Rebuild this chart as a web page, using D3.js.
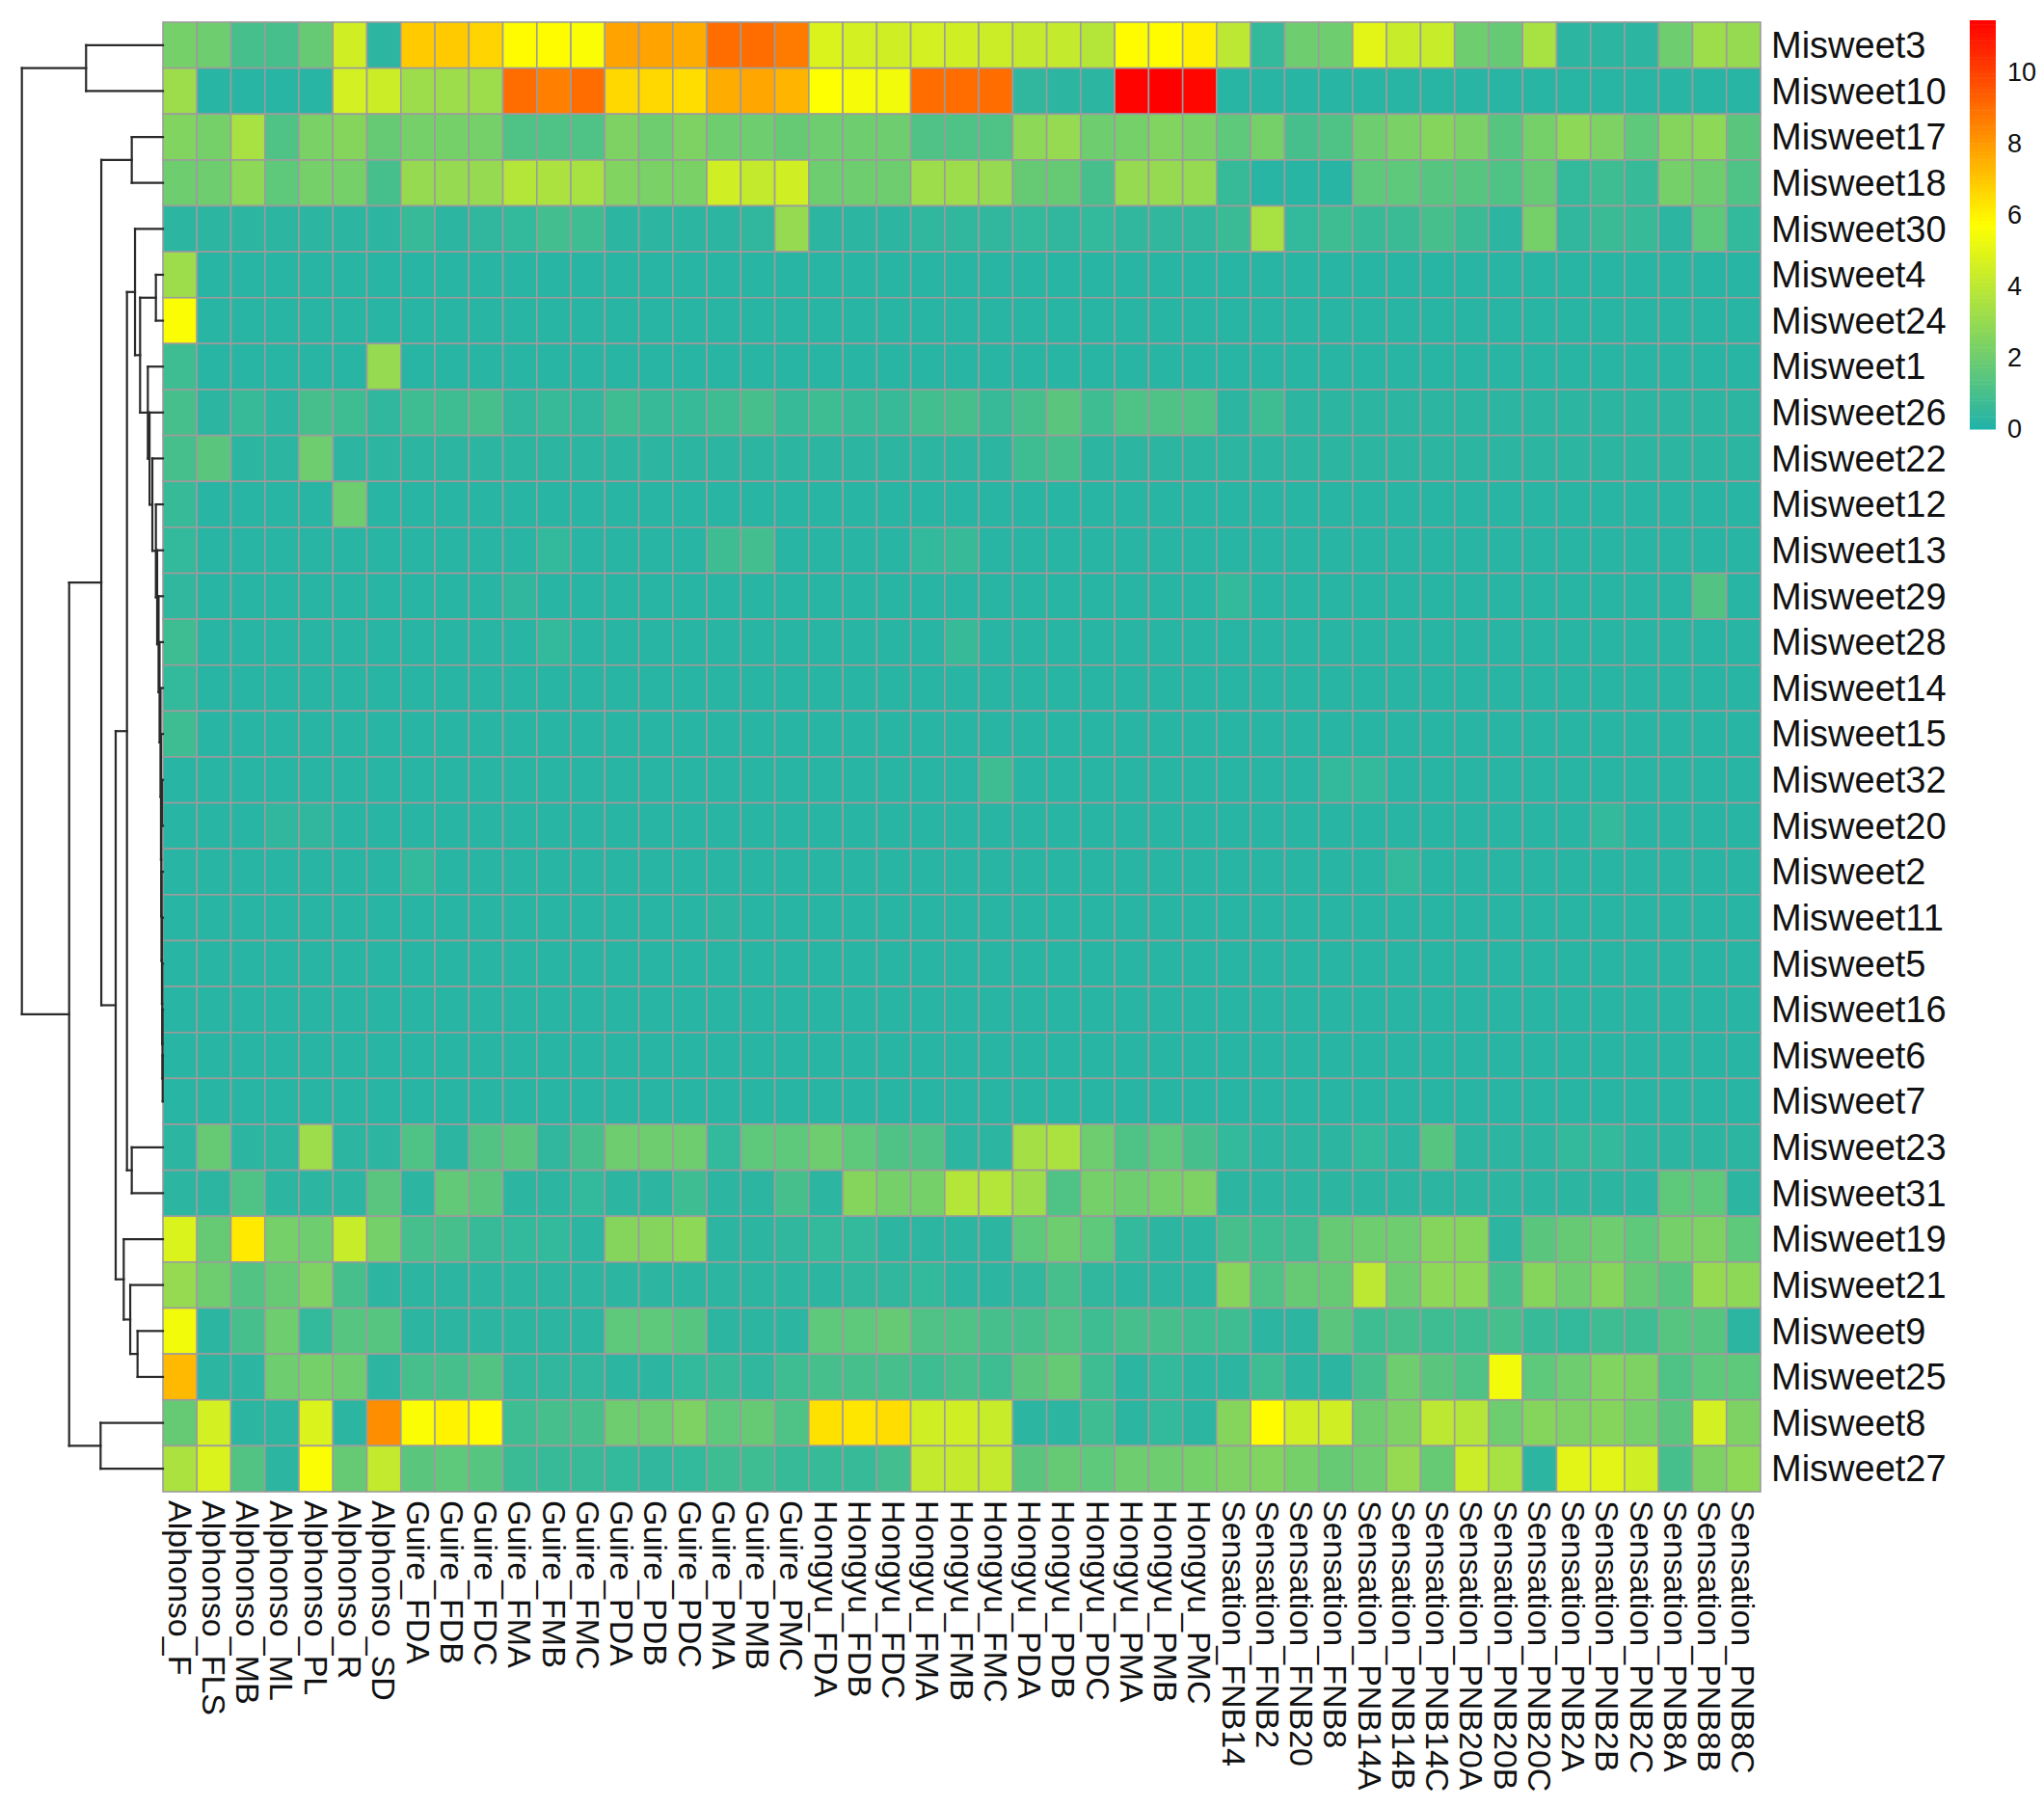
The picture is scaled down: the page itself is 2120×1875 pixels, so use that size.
<!DOCTYPE html>
<html>
<head>
  <title>Misweet heatmap</title>
  <script type="text/javascript" src="https://d3js.org/d3.v7.min.js"></script>
  <style>
    body { margin: 0; background: #fff; }
    text { font-family: "Liberation Sans", Arial, sans-serif; fill: #111; }
  </style>
</head>
<body>
<div class="heatmap"></div>

<script type="text/javascript">
// row order (as clustered)
const genes = ["Misweet3","Misweet10","Misweet17","Misweet18","Misweet30","Misweet4","Misweet24","Misweet1",
  "Misweet26","Misweet22","Misweet12","Misweet13","Misweet29","Misweet28","Misweet14","Misweet15",
  "Misweet32","Misweet20","Misweet2","Misweet11","Misweet5","Misweet16","Misweet6","Misweet7",
  "Misweet23","Misweet31","Misweet19","Misweet21","Misweet9","Misweet25","Misweet8","Misweet27"];

const samples = ["Alphonso_F","Alphonso_FLS","Alphonso_MB","Alphonso_ML","Alphonso_PL","Alphonso_R","Alphonso_SD",
  "Guire_FDA","Guire_FDB","Guire_FDC","Guire_FMA","Guire_FMB","Guire_FMC","Guire_PDA","Guire_PDB","Guire_PDC","Guire_PMA","Guire_PMB","Guire_PMC",
  "Hongyu_FDA","Hongyu_FDB","Hongyu_FDC","Hongyu_FMA","Hongyu_FMB","Hongyu_FMC","Hongyu_PDA","Hongyu_PDB","Hongyu_PDC","Hongyu_PMA","Hongyu_PMB","Hongyu_PMC",
  "Sensation_FNB14","Sensation_FNB2","Sensation_FNB20","Sensation_FNB8","Sensation_PNB14A","Sensation_PNB14B","Sensation_PNB14C",
  "Sensation_PNB20A","Sensation_PNB20B","Sensation_PNB20C","Sensation_PNB2A","Sensation_PNB2B","Sensation_PNB2C",
  "Sensation_PNB8A","Sensation_PNB8B","Sensation_PNB8C"];

// expression values, one row per gene (same order as genes), columns as samples
const expr = [
  [2.2,2.0,1.0,1.0,1.8,4.5,0.3, 6.9,6.9,6.7,5.8,5.8,5.6,7.8,7.8,7.6,9.0,9.0,8.7, 4.8,4.6,4.5,4.6,4.5,4.4,4.2,4.2,3.8,5.8,5.8,6.1, 4.0,0.5,2.0,2.0,5.0,4.3,4.3,2.0,1.8,3.5,0.3,0.3,0.3,2.0,3.2,3.0],
  [3.2,0.2,0.2,0.2,0.2,4.6,4.4, 3.2,3.2,3.2,9.0,8.6,9.0,6.6,6.6,6.5,7.6,7.7,7.4, 5.7,5.5,5.4,9.0,9.0,9.0,0.4,0.3,0.3,11.4,11.5,11.3, 0.2,0.2,0.2,0.2,0.2,0.2,0.2,0.2,0.2,0.2,0.2,0.2,0.2,0.2,0.2,0.2],
  [2.5,2.2,3.5,1.2,2.3,2.6,1.8, 2.2,2.2,2.2,1.2,1.2,1.2,2.4,2.0,2.4,2.0,2.0,1.8, 2.0,2.0,2.0,1.2,1.2,1.2,2.8,3.0,2.0,2.2,2.5,2.3, 1.6,2.2,1.0,1.2,2.0,2.3,2.6,2.3,1.4,2.2,2.8,2.4,1.6,2.6,2.8,1.5],
  [2.0,2.0,2.8,1.6,2.2,2.2,1.0, 3.0,3.0,3.0,3.8,3.6,3.5,2.5,2.3,2.3,4.5,4.2,4.5, 2.0,2.0,2.0,3.2,3.2,3.0,1.8,1.8,1.0,3.0,3.0,3.0, 0.6,0.2,0.2,0.2,1.6,1.6,1.4,1.4,1.2,1.8,0.5,0.8,0.6,2.2,2.0,1.2],
  [0.3,0.3,0.3,0.3,0.3,0.3,0.3, 0.6,0.3,0.4,0.5,0.9,0.8,0.3,0.3,0.3,0.3,0.4,3.0, 0.3,0.3,0.3,0.4,0.4,0.4,0.5,0.4,0.5,0.4,0.4,0.4, 0.7,3.5,0.5,0.8,0.6,0.7,1.0,0.7,0.3,2.2,0.4,0.7,0.6,0.3,1.6,0.5],
  [3.2,0.2,0.2,0.2,0.2,0.2,0.2, 0.2,0.2,0.2,0.2,0.2,0.2,0.2,0.2,0.2,0.2,0.2,0.2, 0.2,0.2,0.2,0.2,0.2,0.2,0.2,0.2,0.2,0.2,0.2,0.2, 0.2,0.2,0.2,0.2,0.2,0.2,0.2,0.2,0.2,0.2,0.2,0.2,0.2,0.2,0.2,0.2],
  [5.6,0.2,0.2,0.2,0.2,0.2,0.2, 0.2,0.2,0.2,0.2,0.2,0.2,0.2,0.2,0.2,0.2,0.2,0.2, 0.2,0.2,0.2,0.2,0.2,0.2,0.2,0.2,0.2,0.2,0.2,0.2, 0.2,0.2,0.2,0.2,0.2,0.2,0.2,0.2,0.2,0.2,0.2,0.2,0.2,0.2,0.2,0.2],
  [0.8,0.2,0.2,0.2,0.2,0.2,3.0, 0.2,0.2,0.2,0.2,0.2,0.2,0.2,0.2,0.2,0.2,0.2,0.2, 0.2,0.2,0.2,0.2,0.2,0.2,0.2,0.2,0.2,0.2,0.2,0.2, 0.2,0.2,0.2,0.2,0.2,0.2,0.2,0.2,0.2,0.2,0.2,0.2,0.2,0.2,0.2,0.2],
  [1.0,0.3,0.6,0.3,1.0,0.8,0.4, 0.8,0.8,1.0,0.4,0.6,0.4,0.8,0.6,0.6,0.8,1.0,0.6, 0.8,0.6,0.6,0.9,1.0,0.6,1.0,1.5,0.8,1.2,1.2,1.2, 0.3,0.8,0.3,0.3,0.3,0.3,0.3,0.3,0.3,0.3,0.3,0.3,0.3,0.3,0.3,0.3],
  [1.0,1.5,0.3,0.3,2.0,0.3,0.3, 0.3,0.3,0.3,0.3,0.3,0.3,0.3,0.3,0.3,0.3,0.3,0.3, 0.3,0.3,0.3,0.3,0.3,0.3,0.8,1.0,0.3,0.3,0.3,0.3, 0.3,0.3,0.3,0.3,0.3,0.3,0.3,0.3,0.3,0.3,0.3,0.3,0.3,0.3,0.3,0.3],
  [0.6,0.2,0.2,0.2,0.2,2.0,0.2, 0.2,0.2,0.2,0.2,0.2,0.2,0.2,0.2,0.2,0.2,0.2,0.2, 0.2,0.2,0.2,0.2,0.2,0.2,0.2,0.2,0.2,0.2,0.2,0.2, 0.2,0.2,0.2,0.2,0.2,0.2,0.2,0.2,0.2,0.2,0.2,0.2,0.2,0.2,0.2,0.2],
  [0.5,0.2,0.2,0.2,0.2,0.2,0.2, 0.2,0.2,0.2,0.2,0.5,0.2,0.2,0.2,0.2,0.8,0.9,0.2, 0.2,0.2,0.2,0.5,0.6,0.2,0.2,0.2,0.2,0.2,0.2,0.2, 0.2,0.2,0.2,0.2,0.2,0.2,0.2,0.2,0.2,0.2,0.2,0.2,0.2,0.2,0.2,0.2],
  [0.4,0.2,0.2,0.2,0.2,0.2,0.2, 0.2,0.2,0.2,0.4,0.2,0.2,0.2,0.2,0.2,0.2,0.2,0.2, 0.2,0.2,0.2,0.2,0.2,0.2,0.2,0.2,0.2,0.2,0.2,0.2, 0.5,0.2,0.2,0.2,0.2,0.2,0.2,0.2,0.2,0.2,0.2,0.2,0.2,0.2,1.3,0.2],
  [0.8,0.2,0.2,0.2,0.2,0.2,0.2, 0.2,0.2,0.2,0.2,0.5,0.2,0.2,0.2,0.2,0.2,0.2,0.2, 0.2,0.2,0.2,0.2,0.6,0.2,0.2,0.2,0.2,0.2,0.2,0.2, 0.2,0.2,0.2,0.2,0.2,0.2,0.2,0.2,0.2,0.2,0.2,0.2,0.2,0.2,0.2,0.2],
  [0.5,0.2,0.2,0.2,0.2,0.2,0.2, 0.2,0.2,0.2,0.2,0.2,0.2,0.2,0.2,0.2,0.2,0.2,0.2, 0.2,0.2,0.2,0.2,0.2,0.2,0.2,0.2,0.2,0.2,0.2,0.2, 0.2,0.2,0.2,0.2,0.2,0.2,0.2,0.2,0.2,0.2,0.2,0.2,0.2,0.2,0.2,0.2],
  [0.8,0.2,0.2,0.2,0.2,0.2,0.2, 0.2,0.2,0.2,0.2,0.2,0.2,0.2,0.2,0.2,0.2,0.2,0.2, 0.2,0.2,0.2,0.2,0.2,0.2,0.2,0.2,0.2,0.2,0.2,0.2, 0.2,0.2,0.2,0.2,0.2,0.2,0.2,0.2,0.2,0.2,0.2,0.2,0.2,0.2,0.2,0.2],
  [0.2,0.2,0.2,0.2,0.2,0.2,0.2, 0.2,0.2,0.2,0.2,0.2,0.2,0.2,0.2,0.2,0.2,0.2,0.2, 0.2,0.2,0.2,0.2,0.2,0.8,0.2,0.2,0.2,0.2,0.2,0.2, 0.2,0.2,0.2,0.5,0.5,0.2,0.2,0.2,0.2,0.2,0.2,0.2,0.2,0.2,0.2,0.2],
  [0.2,0.2,0.2,0.4,0.4,0.2,0.2, 0.2,0.2,0.2,0.2,0.2,0.2,0.2,0.2,0.2,0.2,0.2,0.2, 0.2,0.2,0.2,0.2,0.2,0.2,0.2,0.2,0.2,0.2,0.2,0.2, 0.2,0.2,0.2,0.2,0.2,0.2,0.2,0.2,0.2,0.2,0.2,0.5,0.2,0.2,0.2,0.2],
  [0.2,0.2,0.2,0.2,0.2,0.2,0.2, 0.5,0.2,0.2,0.2,0.2,0.2,0.2,0.2,0.2,0.2,0.2,0.2, 0.2,0.2,0.2,0.2,0.2,0.2,0.2,0.2,0.2,0.2,0.2,0.2, 0.2,0.2,0.2,0.2,0.2,0.5,0.2,0.2,0.2,0.2,0.2,0.2,0.2,0.2,0.2,0.2],
  [0.2,0.2,0.2,0.2,0.2,0.2,0.2, 0.2,0.2,0.2,0.2,0.2,0.2,0.2,0.2,0.2,0.3,0.2,0.2, 0.2,0.2,0.2,0.2,0.2,0.2,0.2,0.2,0.2,0.2,0.2,0.2, 0.2,0.2,0.2,0.2,0.2,0.2,0.2,0.2,0.2,0.2,0.2,0.2,0.2,0.2,0.2,0.2],
  [0.2,0.2,0.2,0.2,0.2,0.2,0.2, 0.2,0.2,0.2,0.2,0.2,0.2,0.2,0.2,0.2,0.2,0.2,0.2, 0.2,0.2,0.2,0.2,0.2,0.2,0.2,0.2,0.2,0.2,0.2,0.2, 0.2,0.2,0.2,0.2,0.2,0.2,0.2,0.2,0.2,0.2,0.2,0.2,0.2,0.2,0.2,0.2],
  [0.2,0.2,0.2,0.2,0.2,0.2,0.2, 0.2,0.2,0.2,0.2,0.2,0.2,0.2,0.2,0.2,0.2,0.2,0.2, 0.2,0.2,0.2,0.2,0.2,0.2,0.2,0.2,0.2,0.2,0.2,0.2, 0.2,0.2,0.2,0.2,0.2,0.2,0.2,0.2,0.2,0.2,0.2,0.2,0.2,0.2,0.2,0.2],
  [0.2,0.2,0.2,0.2,0.2,0.2,0.2, 0.2,0.2,0.2,0.2,0.2,0.2,0.2,0.2,0.2,0.2,0.2,0.2, 0.2,0.2,0.2,0.2,0.2,0.2,0.2,0.2,0.2,0.2,0.2,0.2, 0.2,0.2,0.2,0.2,0.2,0.2,0.2,0.2,0.2,0.2,0.2,0.2,0.2,0.2,0.2,0.2],
  [0.2,0.2,0.2,0.2,0.2,0.2,0.2, 0.2,0.2,0.2,0.2,0.2,0.2,0.2,0.2,0.2,0.2,0.2,0.2, 0.2,0.2,0.2,0.2,0.2,0.2,0.2,0.2,0.2,0.2,0.2,0.2, 0.2,0.2,0.2,0.2,0.2,0.2,0.2,0.2,0.2,0.2,0.2,0.2,0.2,0.2,0.2,0.2],
  [0.3,1.8,0.3,0.3,3.2,0.3,0.3, 1.2,0.3,1.3,1.5,0.4,1.0,2.0,2.0,2.0,0.5,1.6,1.6, 2.0,1.6,1.2,1.2,0.3,0.3,3.4,3.6,2.0,1.2,1.6,1.0, 0.5,0.3,0.3,0.3,0.5,0.3,1.4,0.3,0.3,0.3,0.5,0.5,0.3,0.3,0.3,0.3],
  [0.3,0.3,1.2,0.3,0.3,0.3,1.5, 0.3,1.7,1.5,0.3,0.3,0.5,0.3,0.3,0.8,0.3,0.3,1.0, 0.3,2.6,2.2,2.2,3.8,3.8,3.2,1.2,2.2,2.0,2.2,2.4, 0.3,0.3,0.3,0.3,0.3,0.3,0.3,0.3,0.3,0.3,0.3,0.3,0.3,1.6,1.6,0.3],
  [4.8,1.8,6.2,2.2,2.0,4.3,2.2, 1.0,1.0,0.6,0.5,0.5,0.3,2.6,2.6,2.8,0.3,0.3,0.4, 0.5,0.5,0.3,0.3,0.3,0.3,1.6,2.0,1.6,0.5,0.3,0.3, 1.0,0.8,0.8,1.8,2.0,2.0,2.6,2.6,0.3,1.5,1.8,2.0,1.6,2.2,2.4,1.6],
  [3.0,2.0,1.3,1.8,2.4,1.0,0.3, 0.3,0.3,0.3,0.3,0.3,0.3,0.3,0.3,0.3,0.3,0.3,0.3, 0.3,0.4,0.4,0.5,0.3,0.3,0.4,1.0,0.4,0.3,0.3,0.3, 2.6,1.2,1.8,1.8,4.0,2.0,2.8,2.8,1.0,2.6,2.0,2.6,1.8,1.4,3.0,2.8],
  [5.4,0.3,1.0,2.0,0.5,1.4,1.4, 0.3,0.3,0.3,0.3,0.3,0.3,1.6,1.6,1.4,0.3,0.3,0.3, 1.6,1.6,1.8,1.2,1.2,1.0,1.0,1.2,0.8,1.0,1.0,0.8, 0.8,0.3,0.3,1.5,0.8,1.0,0.8,0.8,1.0,0.6,0.5,0.8,0.8,1.4,1.4,0.3],
  [7.3,0.3,0.3,2.0,2.2,2.0,0.3, 1.0,1.0,1.3,0.4,0.4,0.4,0.3,0.3,0.5,0.6,0.4,0.8, 1.0,1.0,1.0,0.8,1.0,0.8,1.5,1.8,0.8,0.3,0.5,0.3, 0.3,0.8,0.3,0.3,1.0,2.0,1.5,1.2,5.4,1.6,2.0,2.5,2.4,1.2,1.6,1.6],
  [1.8,4.6,0.3,0.3,4.8,0.3,8.3, 5.6,6.0,5.8,0.8,1.0,1.0,2.0,2.0,2.4,1.6,1.8,1.2, 6.4,6.3,6.5,4.5,4.5,4.3,0.3,0.3,0.8,0.3,0.5,0.3, 2.6,5.8,4.5,4.5,2.0,2.4,4.0,3.8,2.0,2.6,2.4,2.6,2.2,1.5,4.6,2.4],
  [3.6,4.8,1.3,0.3,5.6,1.8,4.2, 1.5,1.6,1.4,0.7,0.6,0.6,0.5,0.4,0.5,0.8,0.8,0.6, 0.6,0.6,0.9,4.2,4.2,4.2,1.5,1.8,1.6,2.0,2.0,2.2, 2.4,2.5,2.2,1.8,2.0,3.0,1.8,4.4,3.5,0.3,5.0,5.0,4.5,1.0,2.4,2.8]
];

// row clustering: [left, right, height]; strings are genes, numbers point to earlier merges
const rowMerges = [
  ["Misweet6","Misweet7",0.2], ["Misweet16",0,0.35], ["Misweet5",1,0.5], ["Misweet32","Misweet20",0.7],
  ["Misweet11",2,0.7], ["Misweet2",4,1.0], [3,5,1.2], ["Misweet15",6,1.4], ["Misweet14",7,1.7],
  ["Misweet28",8,2.4], ["Misweet29",9,3.1], ["Misweet13",10,4.1], ["Misweet12",11,5.0],
  ["Misweet4","Misweet24",5.0], ["Misweet22",12,7.5], ["Misweet26",14,9.5], ["Misweet1",15,10.7],
  [13,16,16.2], ["Misweet9","Misweet25",18.0], ["Misweet30",17,19.8], ["Misweet17","Misweet18",22.1],
  ["Misweet23","Misweet31",22.1], ["Misweet21",18,23.2], [19,21,25.5], ["Misweet19",22,27.8],
  [23,24,33.5], [20,25,43.7], ["Misweet8","Misweet27",44.2], [26,27,66.5],
  ["Misweet3","Misweet10",54.5], [29,28,100]
];

const legendTicks = [0, 2, 4, 6, 8, 10];
const colorMin = 0, colorMax = 11.46;

const width = 2120, height = 1875;
const svg = d3.select('.heatmap')
  .append('svg')
  .attr('width', width)
  .attr('height', height)

const x = d3.scaleBand().domain(samples).range([169, 1826]);
const y = d3.scaleBand().domain(genes).range([23, 1547]);
const color = d3.scaleLinear()
  .domain([colorMin, (colorMin + colorMax) / 2, colorMax])
  .range(["#20B2AA", "#FFFF00", "#FF0000"]);

const cells = [];
expr.forEach((row, i) => row.forEach((v, j) => cells.push({gene: genes[i], sample: samples[j], value: v})));

svg.selectAll("rect.cell")
  .data(cells)
  .enter()
  .append("rect")
  .attr("class", "cell")
  .attr("x", d => x(d.sample))
  .attr("y", d => y(d.gene))
  .attr("width", x.bandwidth())
  .attr("height", y.bandwidth())
  .attr("fill", d => color(d.value))
  .attr("stroke", "#9c9c9c")
  .attr("stroke-width", 1.6);

// row labels
svg.selectAll("text.row")
  .data(genes)
  .enter()
  .append("text")
  .attr("class", "row")
  .attr("x", 1837)
  .attr("y", d => y(d) + y.bandwidth() / 2)
  .attr("dy", "0.35em")
  .attr("font-size", "38px")
  .text(d => d);

// column labels, vertical
svg.selectAll("text.col")
  .data(samples)
  .enter()
  .append("text")
  .attr("class", "col")
  .attr("transform", d => `translate(${x(d) + x.bandwidth() / 2},1556) rotate(90)`)
  .attr("dy", "0.35em")
  .attr("font-size", "34px")
  .text(d => d);

// dendrogram
const hx = d3.scaleLinear().domain([0, 100]).range([169, 22.7]);
const nodes = rowMerges.map(m => ({left: m[0], right: m[1], h: m[2]}));
function pos(ref) {
  if (typeof ref === "string") return {x: hx(0), y: y(ref) + y.bandwidth() / 2};
  return nodes[ref].p;
}
const segs = [];
nodes.forEach(n => {
  const a = pos(n.left), b = pos(n.right);
  const nx = hx(n.h);
  n.p = {x: nx, y: (a.y + b.y) / 2};
  segs.push([nx, a.y, nx, b.y]);
  segs.push([nx, a.y, a.x, a.y]);
  segs.push([nx, b.y, b.x, b.y]);
});

svg.selectAll("line.dendro")
  .data(segs)
  .enter()
  .append("line")
  .attr("class", "dendro")
  .attr("x1", d => d[0]).attr("y1", d => d[1])
  .attr("x2", d => d[2]).attr("y2", d => d[3])
  .attr("stroke", "#2a2a2a")
  .attr("stroke-width", 2.2)
  .attr("stroke-linecap", "square");

// colour legend
const ly = d3.scaleLinear().domain([colorMin, colorMax]).range([445, 21]);
const steps = d3.range(100).map(i => colorMin + (colorMax - colorMin) * i / 100);
const stepH = (ly(colorMin) - ly(colorMax)) / 100;
svg.selectAll("rect.legend")
  .data(steps)
  .enter()
  .append("rect")
  .attr("class", "legend")
  .attr("x", 2043)
  .attr("y", d => ly(d) - stepH)
  .attr("width", 27)
  .attr("height", stepH + 0.5)
  .attr("fill", d => color(d + (colorMax - colorMin) / 200));

svg.selectAll("text.legend")
  .data(legendTicks)
  .enter()
  .append("text")
  .attr("class", "legend")
  .attr("x", 2082)
  .attr("y", d => ly(d))
  .attr("dy", "0.35em")
  .attr("font-size", "27px")
  .attr("fill", "#222")
  .text(d => d);
</script>
</body>
</html>
